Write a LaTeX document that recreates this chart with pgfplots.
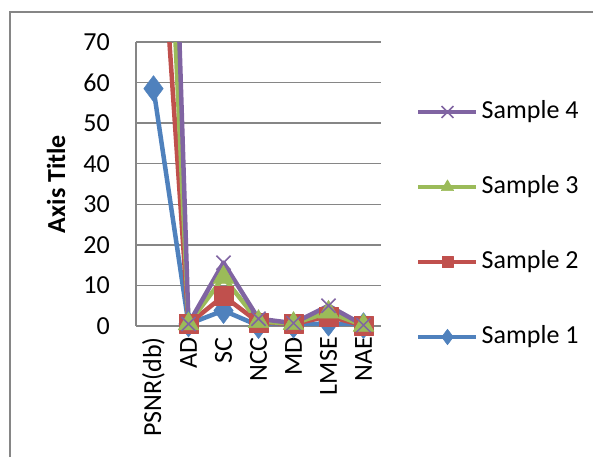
\documentclass[border=0pt]{standalone}
\usepackage{pgfplots}
\pgfplotsset{compat=1.18}
\usepackage{fontspec}
\setmainfont{Carlito}

\definecolor{sOne}{HTML}{4F81BD}
\definecolor{sTwo}{HTML}{C0504D}
\definecolor{sThree}{HTML}{9BBB59}
\definecolor{sFour}{HTML}{8064A2}
\definecolor{gridgray}{HTML}{868686}

\begin{document}
\begin{tikzpicture}[x=1pt,y=1pt]
\fontsize{26}{30}\selectfont
\path[use as bounding box] (0,0) rectangle (593,457);
% chart frame
\draw[gridgray, line width=1.2pt] (10,0) -- (10,445) -- (593,445);
\begin{axis}[
  at={(136pt,131pt)}, anchor=south west,
  scale only axis, width=245pt, height=284pt,
  xmin=-0.5, xmax=6.5, ymin=0, ymax=70,
  xtick={0,...,6},
  xticklabels={PSNR(db),AD,SC,NCC,MD,LMSE,NAE},
  xticklabel style={rotate=90, anchor=east, font=\fontsize{26}{30}\selectfont},
  ytick={0,10,...,70},
  yticklabel style={font=\fontsize{26}{30}\selectfont},
  /pgf/number format/assume math mode=true,
  major tick length=0pt,
  xtick style={draw=none}, ytick style={draw=none},
  tick label style={inner sep=0pt},
  xticklabel shift=11pt, yticklabel shift=26pt,
  ymajorgrids, grid style={gridgray, line width=1.3pt},
  axis x line*=bottom, axis y line*=left,
  axis line style={gridgray, line width=1.3pt, -},
  ylabel={\bfseries Axis Title},
  every axis y label/.style={at={(axis description cs:0,0.5)}, xshift=-80pt,
    rotate=90, anchor=center, inner sep=0pt, font=\fontsize{26}{30}\selectfont},
  every axis plot/.append style={line width=4.5pt, line join=round},
  legend cell align=left,
  reverse legend,
  legend style={at={(1.143,0.3574)}, anchor=west, draw=none, fill=none,
    inner sep=0pt, row sep=50pt,
    nodes={inner sep=0pt, text height=19pt, text depth=6pt, font=\fontsize{26}{30}\selectfont}},
  legend image code/.code={
    \draw[mark repeat=2, mark phase=2, every mark/.append style={scale=0.6}]
      plot coordinates {(0pt,0pt) (29pt,0pt) (58pt,0pt)};
    \path (61pt,0pt);
  },
]
\addplot[color=sOne, mark=diamond*, mark size=13pt, mark options={solid, fill=sOne, line width=0.5pt}]
  coordinates {(0,58.5) (1,0.5) (2,3.8) (3,0.1) (4,0.2) (5,0.7) (6,0.1)};
\addlegendentry{Sample 1}
\addplot[color=sTwo, mark=square*, mark size=9.5pt, mark options={solid, fill=sTwo, line width=0.5pt}]
  coordinates {(0,128) (1,0.5) (2,7.4) (3,0.9) (4,0.5) (5,2.4) (6,0.1)};
\addlegendentry{Sample 2}
\addplot[color=sThree, mark=triangle*, mark size=12pt, mark options={solid, fill=sThree, line width=0.5pt}]
  coordinates {(0,188) (1,0.5) (2,12) (3,1.1) (4,0.6) (5,3.4) (6,0.15)};
\addlegendentry{Sample 3}
\addplot[color=sFour, mark=x, mark size=10pt, mark options={solid, line width=1.5pt},
  legend image post style={every mark/.append style={scale=1.4}}]
  coordinates {(0,270) (1,0.5) (2,15.6) (3,1.8) (4,0.7) (5,5.0) (6,0.2)};
\addlegendentry{Sample 4}
\end{axis}
\end{tikzpicture}
\end{document}
